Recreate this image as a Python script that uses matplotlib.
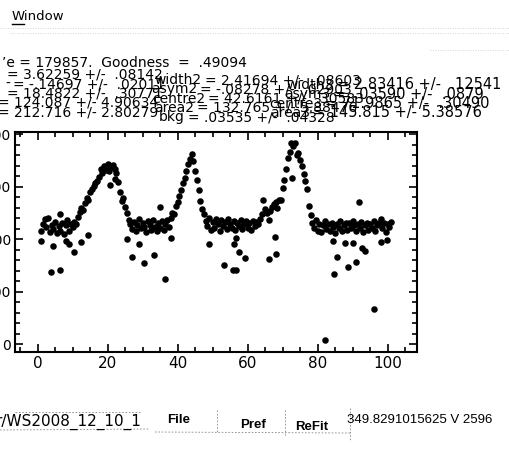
import numpy as np
import matplotlib
matplotlib.use("Agg")
import matplotlib.pyplot as plt
from matplotlib.ticker import MultipleLocator

W, H = 509, 450

# main trace, sampled every 0.5 from x = 1
trace_y = [
    216, 229, 239, 223, 241, 213, 226, 219, 233, 211, 225, 216, 231, 209, 227, 236, 215, 229, 223,
    233, 229, 243, 251, 259, 255, 269, 278, 275, 289, 295, 301, 307, 311, 319,
    334, 326, 339, 332, 344, 330, 338, 342, 334, 326, 309,
    289, 272, 279, 262, 249, 236,
    228, 220, 232, 216, 226, 238, 221, 231, 224, 214, 234, 226, 218, 236, 224, 216, 230, 222, 234, 218, 228, 236, 224, 241,
    250, 248, 263, 270, 283, 293, 306, 316, 330, 343, 353, 363,
    348, 330, 313, 293, 273, 258,
    248, 235, 225, 240, 218, 232, 222, 238, 228, 215, 236, 225, 232, 220, 238, 228, 222, 235, 218, 230, 225, 236, 220, 228, 234, 222, 230, 218, 235, 225, 232, 228,
    238, 247, 274, 258, 250, 237, 254, 262, 267, 271, 260, 274, 275, 297,
    313, 333, 355, 365, 384, 378, 384,
    360, 364, 351, 339, 324, 310, 296, 264, 246,
    231, 221, 236, 216, 228, 214, 226, 234, 219, 228, 216, 231, 224, 212, 228, 221, 234, 216, 226, 231, 218, 230, 222, 234, 226, 216, 228, 221, 232, 214, 226, 230, 218, 228, 222, 234, 216, 226, 230, 238, 221, 231, 214, 228, 224, 232,
]
trace_x = 1 + 0.5 * np.arange(len(trace_y))

# scattered points away from the trace
out_x = [1, 3.7, 6.5, 4.4, 10.5, 12.3, 14.4, 6.5, 8, 9, 20.7, 22, 25.4, 27, 29, 30.3, 33.2, 35, 36.3, 38,
         49, 53.3, 55.8, 56.7, 57.6, 56, 56.7, 59.2, 66.2, 68, 67.8, 72.6, 82, 84.4, 84.7, 85.4, 87.7,
         88.7, 90, 91, 91.7, 92.6, 93.4, 96.2, 98, 99.8]
out_y = [197, 138, 141, 186, 175, 194, 208, 247, 197, 190, 304, 314, 200, 166, 190, 155, 169, 262, 124, 203,
         190, 150, 141, 141, 176, 190, 202, 164, 162, 172, 204, 317, 8, 197, 133, 165, 193,
         147, 193, 156, 270, 183, 177, 67, 195, 199]

x_ticks = [0, 20, 40, 60, 80, 100]
y_ticks = [0, 100, 200, 300, 400]

header = "\u2019e = 179857.  Goodness  =  .49094"
col1 = [("", "= 3.62259 +/-  .08142"), ("-", "= -.14697 +/-  .02011"), ("", "= 18.4822 +/-  .30771"),
        ("", "= 124.087 +/- 4.90634"), ("", "= 212.716 +/- 2.80279")]
col2 = [("width2", "= 2.41694 +/-  .08603"), ("asym2", "= -.08278 +/-  .02903"),
        ("centre2", "= 42.6161 +/-  .30583"), ("area2", "= 132.765 +/- 5.88476"),
        ("bkg", "= .03535 +/-  .04328")]
col3 = [("width3", "= 2.83416 +/-  .12541"), ("asym3", "=  .03590 +/-  .0879"),
        ("centre3", "= 71.9865 +/-  .30490"), ("area3", "= 145.815 +/- 5.38576")]


def fx(px):
    return px / W


def fy(py):
    return 1 - py / H


fig = plt.figure(figsize=(W / 100, H / 100), dpi=100)
fig.patch.set_facecolor("white")

ax = fig.add_axes([fx(15), fy(352), 402 / W, 220 / H])
ax.plot(trace_x, trace_y, "o", color="black", ms=4.7, mew=0)
ax.plot(out_x, out_y, "o", color="black", ms=4.7, mew=0)
ax.set_xlim(-6.5, 108.4)
ax.set_ylim(-15, 404)
ax.set_xticks(x_ticks)
ax.set_yticks(y_ticks)
ax.set_yticklabels([str(v) for v in y_ticks], fontsize=10)
ax.set_xticklabels([str(v) for v in x_ticks], fontsize=11)
ax.xaxis.set_minor_locator(MultipleLocator(5))
ax.yaxis.set_minor_locator(MultipleLocator(20))
ax.tick_params(which="both", direction="in", top=True, right=True, width=1.2, color="black")
ax.tick_params(which="major", length=6)
ax.tick_params(which="minor", length=3.5)
ax.tick_params(axis="x", pad=3)
ax.tick_params(axis="y", pad=3)
for s in ax.spines.values():
    s.set_linewidth(1.5)

# fit parameter text block
fig.text(fx(2), fy(63), header, fontsize=10, va="center")
for i, (lab, val) in enumerate(col1):
    y = 75 + 9.3 * i
    eq = 7 if i != 1 else 13
    if i >= 3:
        eq = -2
    if lab:
        fig.text(fx(eq - 3), fy(y), lab, fontsize=10, va="center", ha="right")
    fig.text(fx(eq), fy(y), val, fontsize=10, va="center")
for i, (lab, val) in enumerate(col2):
    y = 80 + 9.3 * i
    eq = [205, 200, 208, 197, 188][i]
    fig.text(fx(eq - 3), fy(y), lab, fontsize=10, va="center", ha="right")
    fig.text(fx(eq), fy(y), val, fontsize=10, va="center")
for i, (lab, val) in enumerate(col3):
    y = 85 + 9.3 * i
    eq = [337, 333, 325, 313][i]
    fig.text(fx(eq - 3), fy(y), lab, fontsize=10, va="center", ha="right")
    fig.text(fx(eq), fy(y), val, fontsize=10.5, va="center")

# window title and faint rules
fig.text(fx(12), fy(17), "Window", fontsize=9.5, va="center")
fig.add_artist(plt.Line2D([fx(12), fx(24)], [fy(24), fy(24)], color="black", lw=1))
for py, x0, x1 in [(28, 0, 509), (33, 10, 509), (50, 430, 509)]:
    fig.add_artist(plt.Line2D([fx(x0), fx(x1)], [fy(py), fy(py)], color="#c8c8c8",
                              lw=0.6, ls=(0, (1, 2))))

# bottom control strip
fig.text(fx(-4), fy(422), "r/WS2008_12_10_1", fontsize=11, va="center")
fig.text(fx(167), fy(420), "File", fontsize=9.5, va="center", family="Liberation Sans", weight="bold")
fig.text(fx(240), fy(425), "Pref", fontsize=9.5, va="center", family="Liberation Sans", weight="bold")
fig.text(fx(295), fy(427), "ReFit", fontsize=9.5, va="center", family="Liberation Sans", weight="bold")
fig.text(fx(347), fy(420), "349.8291015625 V 2596", fontsize=9.5, va="center", family="Liberation Sans")
for (x0, y0, x1, y1) in [(0, 430, 150, 429), (155, 432, 350, 433), (217, 410, 217, 433),
                         (285, 410, 285, 435), (350, 408, 350, 440), (15, 412, 140, 412)]:
    fig.add_artist(plt.Line2D([fx(x0), fx(x1)], [fy(y0), fy(y1)], color="#888888",
                              lw=0.6, ls=(0, (2, 2))))

fig.savefig("out.png", dpi=100)
